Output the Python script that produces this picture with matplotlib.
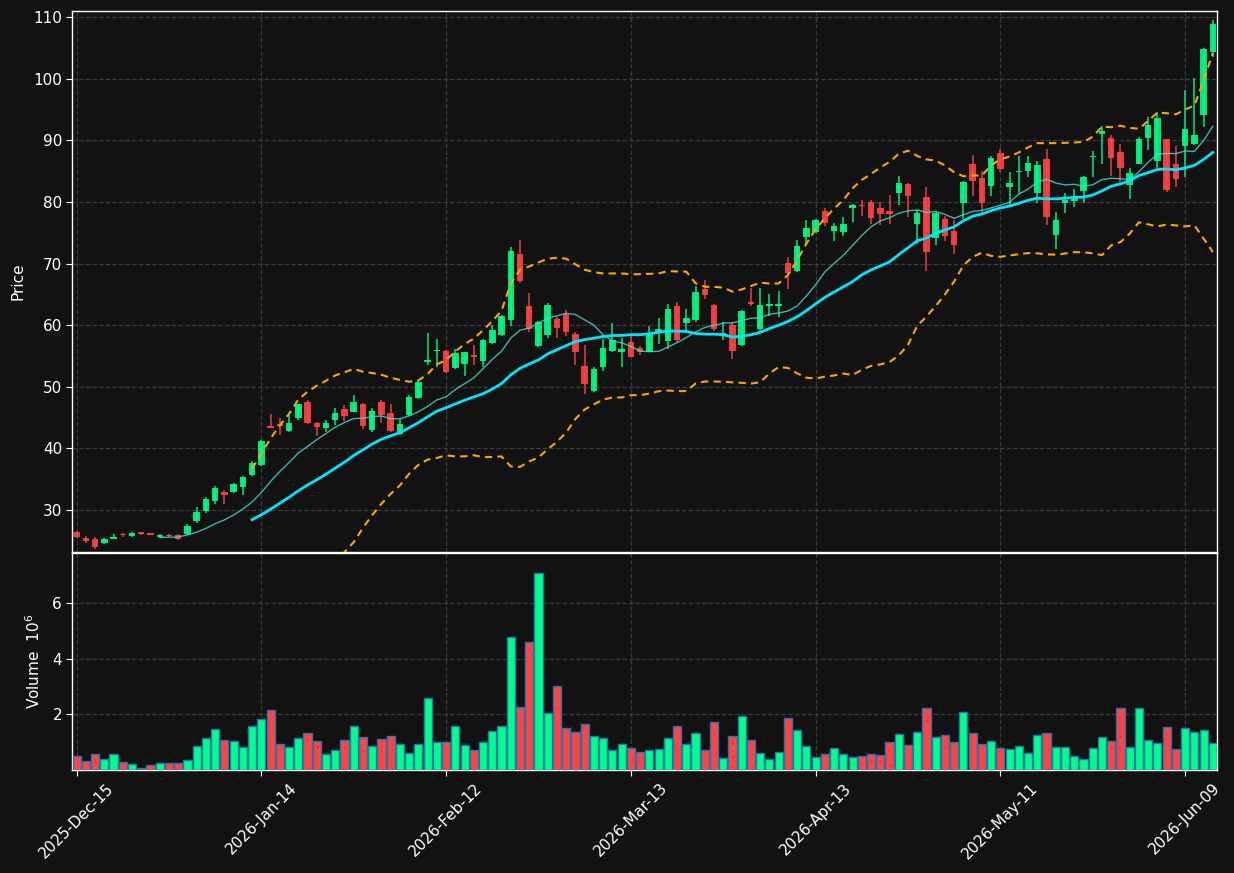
import numpy as np
import pandas as pd
import matplotlib
matplotlib.use("Agg")
import matplotlib.pyplot as plt

# ---------------- data ----------------
holidays = ["2025-12-25", "2026-01-01", "2026-01-19", "2026-02-16", "2026-04-03", "2026-05-25"]
dates = pd.bdate_range("2025-12-15", "2026-06-12")
dates = dates[~dates.isin(pd.to_datetime(holidays))]

opens = [26.4, 25.45, 25.3, 24.64, 25.34, 26.0, 25.8, 26.4, 26.3, 25.7,
         26.0, 25.9, 26.1, 28.2, 29.8, 31.5, 32.9, 32.9, 33.7, 35.7,
         37.3, 43.7, 43.9, 42.8, 44.9, 47.6, 44.1, 43.4, 44.6, 46.4,
         46.0, 47.2, 43.0, 47.5, 45.7, 42.3, 45.4, 48.2, 54.1, 55.8,
         55.8, 53.0, 53.7, 55.2, 54.2, 57.1, 58.4, 60.8, 71.6, 63.1,
         56.6, 58.4, 61.0, 61.8, 58.6, 53.4, 49.4, 53.3, 55.8, 55.7,
         57.2, 56.3, 55.7, 58.7, 57.4, 63.1, 60.4, 60.8, 65.9, 63.3,
         58.5, 60.0, 56.8, 63.8, 59.4, 63.2, 63.1, 70.1, 68.8, 74.4,
         75.2, 78.5, 75.3, 75.2, 79.0, 79.5, 80.0, 79.0, 78.5, 81.5,
         82.9, 76.5, 80.8, 74.2, 77.2, 75.3, 79.9, 86.2, 83.9, 82.6,
         88.0, 82.4, 84.9, 85.1, 81.5, 86.9, 74.7, 79.9, 80.2, 81.8,
         87.3, 91.1, 90.4, 88.1, 82.8, 86.2, 90.4, 86.7, 90.2, 86.2,
         89.1, 89.4, 94.1, 104.4]
highs = [26.6, 25.8, 25.6, 25.5, 26.2, 26.35, 26.4, 26.45, 26.35, 26.2,
         26.2, 26.1, 27.8, 30.5, 32.1, 33.9, 33.2, 34.4, 35.6, 37.9,
         41.3, 45.6, 44.9, 45.4, 47.3, 47.9, 44.3, 44.6, 46.5, 47.0,
         48.7, 47.4, 46.5, 47.9, 47.3, 44.8, 48.7, 51.1, 58.7, 57.8,
         56.0, 56.2, 55.7, 56.8, 57.8, 60.1, 61.7, 72.7, 73.8, 65.3,
         60.7, 63.6, 61.3, 62.4, 58.9, 56.8, 53.2, 57.8, 60.3, 58.0,
         58.4, 56.6, 59.8, 61.1, 63.5, 63.7, 62.6, 66.4, 67.3, 63.4,
         60.5, 60.5, 62.5, 66.1, 66.1, 65.0, 65.5, 71.0, 73.8, 77.0,
         77.3, 79.0, 76.6, 77.5, 79.6, 80.4, 80.4, 79.95, 81.2, 84.3,
         83.1, 78.65, 82.5, 78.4, 77.8, 77.1, 83.45, 87.6, 85.0, 87.5,
         88.6, 84.9, 87.4, 87.5, 86.7, 88.55, 78.3, 81.5, 82.1, 84.2,
         88.2, 92.4, 90.8, 89.4, 85.5, 90.6, 93.75, 94.6, 90.3, 89.1,
         98.1, 100.2, 105.05, 109.5]
lows = [25.5, 24.7, 23.7, 24.5, 25.3, 25.7, 25.6, 25.95, 25.95, 25.6,
        25.7, 25.2, 25.95, 27.9, 29.6, 31.0, 31.0, 32.8, 32.5, 35.5,
        37.2, 43.26, 42.2, 42.7, 44.7, 44.0, 42.0, 42.7, 43.8, 44.5,
        45.9, 43.1, 42.7, 44.2, 42.6, 42.2, 45.2, 48.1, 53.5, 53.2,
        52.3, 52.9, 51.8, 53.6, 53.2, 57.0, 58.3, 59.9, 66.9, 58.9,
        56.5, 58.0, 57.9, 58.3, 53.6, 48.8, 49.2, 52.5, 55.7, 53.2,
        54.8, 55.2, 55.7, 56.9, 56.1, 57.3, 58.9, 60.5, 64.2, 59.1,
        57.6, 54.6, 56.7, 63.1, 59.1, 61.5, 61.4, 65.9, 68.7, 73.2,
        75.0, 76.15, 73.6, 74.5, 76.8, 77.8, 76.4, 76.3, 76.5, 79.5,
        77.6, 73.2, 68.75, 73.1, 73.6, 71.5, 77.3, 80.9, 77.9, 81.0,
        84.9, 79.5, 81.4, 84.0, 79.9, 76.2, 72.3, 78.2, 79.2, 79.9,
        84.1, 86.2, 84.3, 83.2, 80.5, 86.1, 88.4, 85.5, 81.6, 82.5,
        84.1, 89.3, 92.1, 103.6]
closes = [25.6, 24.97, 24.0, 25.29, 25.67, 25.9, 26.27, 26.1, 26.0, 26.0,
          25.8, 25.3, 27.4, 29.7, 31.8, 33.6, 32.4, 34.2, 35.4, 37.6,
          41.2, 43.3, 43.6, 44.2, 47.2, 44.2, 43.5, 44.1, 45.7, 45.3,
          47.5, 43.7, 46.1, 45.4, 42.9, 43.9, 48.3, 50.8, 54.3, 56.0,
          52.45, 55.5, 55.6, 54.9, 57.6, 59.2, 61.5, 72.05, 67.2, 59.4,
          60.6, 63.3, 59.6, 58.9, 55.7, 50.45, 52.9, 56.3, 57.6, 56.1,
          54.9, 55.6, 58.7, 59.4, 62.6, 57.6, 61.2, 65.4, 64.9, 59.4,
          58.8, 55.8, 62.3, 63.4, 63.3, 63.3, 63.4, 68.5, 72.9, 75.8,
          77.1, 76.6, 76.1, 76.4, 79.5, 79.35, 77.45, 78.05, 78.1, 83.1,
          81.0, 78.2, 71.9, 78.2, 74.5, 73.1, 83.2, 83.4, 79.8, 87.1,
          85.4, 83.1, 85.05, 86.3, 86.0, 77.6, 77.1, 80.3, 80.8, 84.1,
          87.5, 91.6, 87.2, 85.6, 84.7, 90.2, 92.45, 93.6, 81.9, 83.8,
          91.85, 90.9, 104.8, 108.9]
volumes = [0.50, 0.31, 0.56, 0.38, 0.56, 0.28, 0.20, 0.06, 0.17, 0.24,
           0.24, 0.24, 0.35, 0.85, 1.14, 1.47, 1.07, 1.03, 0.82, 1.57,
           1.83, 2.15, 0.92, 0.82, 1.14, 1.32, 1.03, 0.56, 0.71, 1.07,
           1.57, 1.18, 0.85, 1.11, 1.21, 0.92, 0.60, 0.92, 2.58, 1.00,
           1.00, 1.57, 0.89, 0.71, 1.00, 1.39, 1.57, 4.78, 2.26, 4.60,
           7.09, 2.04, 3.01, 1.50, 1.36, 1.65, 1.21, 1.14, 0.71, 0.92,
           0.78, 0.64, 0.71, 0.74, 1.14, 1.57, 0.92, 1.32, 0.71, 1.72,
           0.42, 1.21, 1.93, 1.07, 0.60, 0.38, 0.64, 1.86, 1.43, 0.85,
           0.46, 0.56, 0.78, 0.56, 0.46, 0.49, 0.56, 0.53, 1.00, 1.29,
           0.89, 1.36, 2.22, 1.18, 1.25, 1.00, 2.08, 1.32, 0.92, 1.03,
           0.78, 0.74, 0.85, 0.60, 1.25, 1.32, 0.82, 0.82, 0.49, 0.38,
           0.78, 1.18, 1.03, 2.22, 0.82, 2.22, 1.07, 0.96, 1.54, 0.74,
           1.50, 1.36, 1.43, 0.96]  # in millions

# ---------------- styling ----------------
BG = "#121212"
UP = "#00FF88"
DOWN = "#FF4444"
GRID = "#3a3a3a"

df = pd.DataFrame({"Open": opens, "High": highs, "Low": lows, "Close": closes,
                   "Volume": volumes}, index=dates)
x = np.arange(len(df))
ma10 = df["Close"].rolling(10).mean()
ma20 = df["Close"].rolling(20).mean()
sd20 = df["Close"].rolling(20).std()
bb_up = ma20 + 2 * sd20
bb_lo = ma20 - 2 * sd20

fig = plt.figure(figsize=(12.34, 8.73), dpi=100, facecolor=BG)
axp = fig.add_axes([0.0587, 0.3677, 0.9279, 0.6197], facecolor=BG)
axv = fig.add_axes([0.0587, 0.1180, 0.9279, 0.2486], facecolor=BG, sharex=axp)

up = df["Close"] >= df["Open"]
colors = np.where(up, UP, DOWN)

# wicks
axp.vlines(x, df["Low"], df["High"], colors=colors, linewidth=1.1, alpha=0.9, zorder=3)
# bodies
body_bottom = np.minimum(df["Open"], df["Close"])
body_h = np.maximum(np.abs(df["Close"] - df["Open"]), 0.18)
axp.bar(x, body_h, bottom=body_bottom, width=0.7, color=colors, alpha=0.9,
        linewidth=0, zorder=4)

# moving averages and bands
axp.plot(x, ma10, color="#40E0D0", linewidth=1.0, alpha=0.8, zorder=5)
axp.plot(x, ma20, color="#00E5FF", linewidth=2.0, zorder=5)
axp.plot(x, bb_up, color="#FFA500", linewidth=1.5, linestyle=(0, (3.5, 2.5)), zorder=5)
axp.plot(x, bb_lo, color="#FFA500", linewidth=1.5, linestyle=(0, (3.5, 2.5)), zorder=5)

# volume
axv.bar(x, df["Volume"], width=0.88, color=colors, edgecolor="#1f77b4",
        linewidth=1.0, zorder=3)

axp.set_ylim(23.2, 111.0)
axv.set_ylim(0, 7.82)
axp.set_xlim(-0.45, len(df) - 0.5)

tick_idx = x[::20]
tick_lbl = [d.strftime("%Y-%b-%d") for d in df.index[tick_idx]]
axv.set_xticks(tick_idx)
axv.set_xticklabels(tick_lbl, rotation=45, ha="center", fontsize=11, color="white")
axv.set_yticks([2, 4, 6])
axp.set_yticks(np.arange(30, 111, 10))

for ax in (axp, axv):
    ax.grid(True, color=GRID, linestyle="--", linewidth=0.9)
    ax.set_axisbelow(True)
    for s in ax.spines.values():
        s.set_color("white")
        s.set_linewidth(1.0)
    ax.tick_params(colors="white", labelsize=11, length=4)
axp.tick_params(axis="x", labelbottom=False, length=0)

axp.set_ylabel("Price", color="white", fontsize=11)
axv.set_ylabel("Volume  $10^6$", color="white", fontsize=11)
axp.yaxis.set_label_coords(-0.041, 0.5)
axv.yaxis.set_label_coords(-0.026, 0.5)

fig.savefig("out.png", dpi=100, facecolor=BG)
